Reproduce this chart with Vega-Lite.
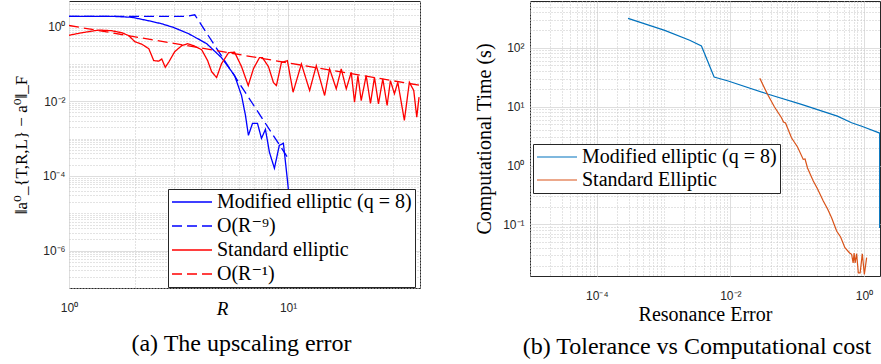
{
  "$schema": "https://vega.github.io/schema/vega-lite/v6.json",
  "background": "white",
  "padding": {"left": 11, "top": 0, "right": 0, "bottom": 0},
  "spacing": 110,
  "bounds": "flush",
  "datasets": {
    "left": [
      {"s": "Modified elliptic (q = 8)", "i": 0, "x": 1, "y": 1.87},
      {"s": "Modified elliptic (q = 8)", "i": 1, "x": 1.569, "y": 1.87},
      {"s": "Modified elliptic (q = 8)", "i": 2, "x": 1.935, "y": 1.76},
      {"s": "Modified elliptic (q = 8)", "i": 3, "x": 2.31, "y": 1.42},
      {"s": "Modified elliptic (q = 8)", "i": 4, "x": 2.65, "y": 1.18},
      {"s": "Modified elliptic (q = 8)", "i": 5, "x": 3.0, "y": 0.94},
      {"s": "Modified elliptic (q = 8)", "i": 6, "x": 3.52, "y": 0.638},
      {"s": "Modified elliptic (q = 8)", "i": 7, "x": 4.25, "y": 0.346},
      {"s": "Modified elliptic (q = 8)", "i": 8, "x": 4.97, "y": 0.146},
      {"s": "Modified elliptic (q = 8)", "i": 9, "x": 5.70, "y": 0.0485},
      {"s": "Modified elliptic (q = 8)", "i": 10, "x": 6.13, "y": 0.0142},
      {"s": "Modified elliptic (q = 8)", "i": 11, "x": 6.39, "y": 0.00416},
      {"s": "Modified elliptic (q = 8)", "i": 12, "x": 6.59, "y": 0.00122},
      {"s": "Modified elliptic (q = 8)", "i": 13, "x": 6.88, "y": 0.00254},
      {"s": "Modified elliptic (q = 8)", "i": 14, "x": 7.25, "y": 0.00254},
      {"s": "Modified elliptic (q = 8)", "i": 15, "x": 7.56, "y": 0.00101},
      {"s": "Modified elliptic (q = 8)", "i": 16, "x": 7.88, "y": 0.00176},
      {"s": "Modified elliptic (q = 8)", "i": 17, "x": 8.22, "y": 0.000429},
      {"s": "Modified elliptic (q = 8)", "i": 18, "x": 8.66, "y": 0.00016},
      {"s": "Modified elliptic (q = 8)", "i": 19, "x": 9.12, "y": 0.000659},
      {"s": "Modified elliptic (q = 8)", "i": 20, "x": 9.52, "y": 0.000745},
      {"s": "Modified elliptic (q = 8)", "i": 21, "x": 9.93, "y": 0.000077},
      {"s": "Modified elliptic (q = 8)", "i": 22, "x": 10.14, "y": 0.0000225},
      {"s": "Modified elliptic (q = 8)", "i": 23, "x": 10.24, "y": 0.00001},
      {"s": "O(R⁻⁹)", "i": 0, "x": 1, "y": 1.87},
      {"s": "O(R⁻⁹)", "i": 1, "x": 3.44, "y": 1.87},
      {"s": "O(R⁻⁹)", "i": 2, "x": 3.75, "y": 2.05},
      {"s": "O(R⁻⁹)", "i": 3, "x": 10.03, "y": 0.00029},
      {"s": "Standard elliptic", "i": 0, "x": 1.0, "y": 0.582},
      {"s": "Standard elliptic", "i": 1, "x": 1.146, "y": 0.679},
      {"s": "Standard elliptic", "i": 2, "x": 1.37, "y": 0.802},
      {"s": "Standard elliptic", "i": 3, "x": 1.569, "y": 0.768},
      {"s": "Standard elliptic", "i": 4, "x": 1.743, "y": 0.679},
      {"s": "Standard elliptic", "i": 5, "x": 1.876, "y": 0.565},
      {"s": "Standard elliptic", "i": 6, "x": 1.997, "y": 0.391},
      {"s": "Standard elliptic", "i": 7, "x": 2.149, "y": 0.335},
      {"s": "Standard elliptic", "i": 8, "x": 2.313, "y": 0.254},
      {"s": "Standard elliptic", "i": 9, "x": 2.437, "y": 0.1217},
      {"s": "Standard elliptic", "i": 10, "x": 2.569, "y": 0.118},
      {"s": "Standard elliptic", "i": 11, "x": 2.651, "y": 0.135},
      {"s": "Standard elliptic", "i": 12, "x": 2.75, "y": 0.0807},
      {"s": "Standard elliptic", "i": 13, "x": 2.852, "y": 0.111},
      {"s": "Standard elliptic", "i": 14, "x": 3.038, "y": 0.2115},
      {"s": "Standard elliptic", "i": 15, "x": 3.268, "y": 0.3057},
      {"s": "Standard elliptic", "i": 16, "x": 3.48, "y": 0.3456},
      {"s": "Standard elliptic", "i": 17, "x": 3.707, "y": 0.3057},
      {"s": "Standard elliptic", "i": 18, "x": 4.03, "y": 0.2392},
      {"s": "Standard elliptic", "i": 19, "x": 4.292, "y": 0.1217},
      {"s": "Standard elliptic", "i": 20, "x": 4.477, "y": 0.0619},
      {"s": "Standard elliptic", "i": 21, "x": 4.717, "y": 0.0429},
      {"s": "Standard elliptic", "i": 22, "x": 4.97, "y": 0.1012},
      {"s": "Standard elliptic", "i": 23, "x": 5.35, "y": 0.199},
      {"s": "Standard elliptic", "i": 24, "x": 5.697, "y": 0.205},
      {"s": "Standard elliptic", "i": 25, "x": 6.131, "y": 0.0842},
      {"s": "Standard elliptic", "i": 26, "x": 6.577, "y": 0.0262},
      {"s": "Standard elliptic", "i": 27, "x": 6.951, "y": 0.0745},
      {"s": "Standard elliptic", "i": 28, "x": 7.403, "y": 0.1463},
      {"s": "Standard elliptic", "i": 29, "x": 7.638, "y": 0.1463},
      {"s": "Standard elliptic", "i": 30, "x": 8.135, "y": 0.0842},
      {"s": "Standard elliptic", "i": 31, "x": 8.574, "y": 0.0315},
      {"s": "Standard elliptic", "i": 32, "x": 8.846, "y": 0.0262},
      {"s": "Standard elliptic", "i": 33, "x": 9.322, "y": 0.1076},
      {"s": "Standard elliptic", "i": 34, "x": 9.927, "y": 0.1217},
      {"s": "Standard elliptic", "i": 35, "x": 10.54, "y": 0.0174},
      {"s": "Standard elliptic", "i": 36, "x": 11.5, "y": 0.0994},
      {"s": "Standard elliptic", "i": 37, "x": 12.54, "y": 0.0193},
      {"s": "Standard elliptic", "i": 38, "x": 13.45, "y": 0.0895},
      {"s": "Standard elliptic", "i": 39, "x": 14.68, "y": 0.0142},
      {"s": "Standard elliptic", "i": 40, "x": 15.47, "y": 0.0731},
      {"s": "Standard elliptic", "i": 41, "x": 16.59, "y": 0.0214},
      {"s": "Standard elliptic", "i": 42, "x": 17.48, "y": 0.0731},
      {"s": "Standard elliptic", "i": 43, "x": 18.43, "y": 0.0214},
      {"s": "Standard elliptic", "i": 44, "x": 19.42, "y": 0.0593},
      {"s": "Standard elliptic", "i": 45, "x": 20.1, "y": 0.0094},
      {"s": "Standard elliptic", "i": 46, "x": 20.83, "y": 0.0484},
      {"s": "Standard elliptic", "i": 47, "x": 21.56, "y": 0.0104},
      {"s": "Standard elliptic", "i": 48, "x": 22.72, "y": 0.0484},
      {"s": "Standard elliptic", "i": 49, "x": 23.77, "y": 0.00869},
      {"s": "Standard elliptic", "i": 50, "x": 24.79, "y": 0.0437},
      {"s": "Standard elliptic", "i": 51, "x": 25.85, "y": 0.00852},
      {"s": "Standard elliptic", "i": 52, "x": 27.06, "y": 0.0396},
      {"s": "Standard elliptic", "i": 53, "x": 28.31, "y": 0.00768},
      {"s": "Standard elliptic", "i": 54, "x": 29.31, "y": 0.0356},
      {"s": "Standard elliptic", "i": 55, "x": 30.57, "y": 0.0158},
      {"s": "Standard elliptic", "i": 56, "x": 31.68, "y": 0.0321},
      {"s": "Standard elliptic", "i": 57, "x": 33.94, "y": 0.00306},
      {"s": "Standard elliptic", "i": 58, "x": 35.77, "y": 0.0321},
      {"s": "Standard elliptic", "i": 59, "x": 37.46, "y": 0.0193},
      {"s": "Standard elliptic", "i": 60, "x": 38.66, "y": 0.00374},
      {"s": "Standard elliptic", "i": 61, "x": 39.6, "y": 0.0128},
      {"s": "O(R⁻¹)", "i": 0, "x": 1, "y": 1.06},
      {"s": "O(R⁻¹)", "i": 1, "x": 40, "y": 0.0265}
    ],
    "right": [
      {"s": "Modified elliptic (q = 8)", "i": 0, "x": 0.000294, "y": 315},
      {"s": "Modified elliptic (q = 8)", "i": 1, "x": 0.00104, "y": 197},
      {"s": "Modified elliptic (q = 8)", "i": 2, "x": 0.00246, "y": 134},
      {"s": "Modified elliptic (q = 8)", "i": 3, "x": 0.00369, "y": 107},
      {"s": "Modified elliptic (q = 8)", "i": 4, "x": 0.00571, "y": 31.8},
      {"s": "Modified elliptic (q = 8)", "i": 5, "x": 0.00927, "y": 27.2},
      {"s": "Modified elliptic (q = 8)", "i": 6, "x": 0.0369, "y": 16.2},
      {"s": "Modified elliptic (q = 8)", "i": 7, "x": 0.116, "y": 10.9},
      {"s": "Modified elliptic (q = 8)", "i": 8, "x": 0.4, "y": 6.9},
      {"s": "Modified elliptic (q = 8)", "i": 9, "x": 0.654, "y": 5.33},
      {"s": "Modified elliptic (q = 8)", "i": 10, "x": 0.95, "y": 4.6},
      {"s": "Modified elliptic (q = 8)", "i": 11, "x": 1.72, "y": 3.55},
      {"s": "Modified elliptic (q = 8)", "i": 12, "x": 1.72, "y": 0.087},
      {"s": "Standard Elliptic", "i": 0, "x": 0.0276, "y": 30.2},
      {"s": "Standard Elliptic", "i": 1, "x": 0.036, "y": 16.2},
      {"s": "Standard Elliptic", "i": 2, "x": 0.0458, "y": 9.84},
      {"s": "Standard Elliptic", "i": 3, "x": 0.0583, "y": 6.47},
      {"s": "Standard Elliptic", "i": 4, "x": 0.0625, "y": 5.48},
      {"s": "Standard Elliptic", "i": 5, "x": 0.067, "y": 5.27},
      {"s": "Standard Elliptic", "i": 6, "x": 0.0822, "y": 2.96},
      {"s": "Standard Elliptic", "i": 7, "x": 0.1014, "y": 2.06},
      {"s": "Standard Elliptic", "i": 8, "x": 0.1234, "y": 1.27},
      {"s": "Standard Elliptic", "i": 9, "x": 0.1314, "y": 1.29},
      {"s": "Standard Elliptic", "i": 10, "x": 0.143, "y": 0.907},
      {"s": "Standard Elliptic", "i": 11, "x": 0.1743, "y": 0.546},
      {"s": "Standard Elliptic", "i": 12, "x": 0.2023, "y": 0.399},
      {"s": "Standard Elliptic", "i": 13, "x": 0.2461, "y": 0.2495},
      {"s": "Standard Elliptic", "i": 14, "x": 0.2856, "y": 0.1825},
      {"s": "Standard Elliptic", "i": 15, "x": 0.328, "y": 0.13},
      {"s": "Standard Elliptic", "i": 16, "x": 0.39, "y": 0.0773},
      {"s": "Standard Elliptic", "i": 17, "x": 0.4475, "y": 0.0611},
      {"s": "Standard Elliptic", "i": 18, "x": 0.519, "y": 0.0402},
      {"s": "Standard Elliptic", "i": 19, "x": 0.61, "y": 0.0327},
      {"s": "Standard Elliptic", "i": 20, "x": 0.654, "y": 0.031},
      {"s": "Standard Elliptic", "i": 21, "x": 0.689, "y": 0.0221},
      {"s": "Standard Elliptic", "i": 22, "x": 0.713, "y": 0.0327},
      {"s": "Standard Elliptic", "i": 23, "x": 0.738, "y": 0.0221},
      {"s": "Standard Elliptic", "i": 24, "x": 0.777, "y": 0.0318},
      {"s": "Standard Elliptic", "i": 25, "x": 0.824, "y": 0.015},
      {"s": "Standard Elliptic", "i": 26, "x": 0.877, "y": 0.015},
      {"s": "Standard Elliptic", "i": 27, "x": 0.946, "y": 0.0318},
      {"s": "Standard Elliptic", "i": 28, "x": 1.014, "y": 0.0142},
      {"s": "Standard Elliptic", "i": 29, "x": 1.098, "y": 0.0272}
    ]
  },
  "hconcat": [
    {
      "width": 351,
      "height": 287,
      "title": {"text": "(a) The upscaling error", "dx": -3, "offset": 14},
      "data": {"name": "left"},
      "mark": {"type": "line", "strokeWidth": 1.3, "clip": true},
      "encoding": {
        "x": {
          "field": "x", "type": "quantitative",
          "scale": {"type": "log", "domain": [1, 40], "nice": false},
          "axis": {
            "values": [1, 2, 3, 4, 5, 6, 7, 8, 9, 10, 20, 30, 40],
            "labelExpr": "abs(log(datum.value)/LN10 - round(log(datum.value)/LN10)) < 0.001 ? '10' + replace(replace(replace(replace(replace(replace(replace(replace(replace(replace(replace('' + round(log(datum.value)/LN10),'-','⁻'),'0','⁰'),'1','¹'),'2','²'),'3','³'),'4','⁴'),'5','⁵'),'6','⁶'),'7','⁷'),'8','⁸'),'9','⁹') : ''",
            "labelFontSize": {"condition": {"test": "abs(log(datum.value)/LN10 - round(log(datum.value)/LN10)) < 0.001", "value": 12}, "value": 1},
            "gridColor": {"condition": {"test": "abs(log(datum.value)/LN10 - round(log(datum.value)/LN10)) < 0.001", "value": "#dedede"}, "value": "#c6c6c6"},
            "gridDash": {"condition": {"test": "abs(log(datum.value)/LN10 - round(log(datum.value)/LN10)) < 0.001", "value": []}, "value": [1, 2]},
            "labelPadding": 14,
            "title": "R",
            "titleFontStyle": "italic",
            "titleFontSize": 19,
            "titleX": 153,
            "titleY": 26,
            "titleBaseline": "alphabetic"
          }
        },
        "y": {
          "field": "y", "type": "quantitative",
          "scale": {"type": "log", "domain": [1e-7, 4.8], "nice": false},
          "axis": {
            "values": [1e-7, 2e-7, 3e-7, 4e-7, 5e-7, 6e-7, 7e-7, 8e-7, 9e-7, 1e-6, 2e-6, 3e-6, 4e-6, 5e-6, 6e-6, 7e-6, 8e-6, 9e-6, 1e-5, 2e-5, 3e-5, 4e-5, 5e-5, 6e-5, 7e-5, 8e-5, 9e-5, 1e-4, 2e-4, 3e-4, 4e-4, 5e-4, 6e-4, 7e-4, 8e-4, 9e-4, 0.001, 0.002, 0.003, 0.004, 0.005, 0.006, 0.007, 0.008, 0.009, 0.01, 0.02, 0.03, 0.04, 0.05, 0.06, 0.07, 0.08, 0.09, 0.1, 0.2, 0.3, 0.4, 0.5, 0.6, 0.7, 0.8, 0.9, 1, 2, 3, 4],
            "labelExpr": "abs(log(datum.value)/LN10/2 - round(log(datum.value)/LN10/2)) < 0.001 ? '10' + replace(replace(replace(replace(replace(replace(replace(replace(replace(replace(replace('' + round(log(datum.value)/LN10),'-','⁻'),'0','⁰'),'1','¹'),'2','²'),'3','³'),'4','⁴'),'5','⁵'),'6','⁶'),'7','⁷'),'8','⁸'),'9','⁹') : ''",
            "labelFontSize": {"condition": {"test": "abs(log(datum.value)/LN10/2 - round(log(datum.value)/LN10/2)) < 0.001", "value": 12}, "value": 1},
            "gridColor": {"condition": {"test": "abs(log(datum.value)/LN10/2 - round(log(datum.value)/LN10/2)) < 0.001", "value": "#dedede"}, "value": "#c6c6c6"},
            "gridDash": {"condition": {"test": "abs(log(datum.value)/LN10/2 - round(log(datum.value)/LN10/2)) < 0.001", "value": []}, "value": [1, 2]},
            "labelPadding": 4,
            "title": "‖a⁰_{T,R,L} − a⁰‖_F",
            "titleFontSize": 17,
            "titleX": -48,
            "titleBaseline": "middle"
          }
        },
        "color": {
          "field": "s", "type": "nominal",
          "scale": {"domain": ["Modified elliptic (q = 8)", "O(R⁻⁹)", "Standard elliptic", "O(R⁻¹)"], "range": ["#0000ff", "#0000ff", "#ff0000", "#ff0000"]},
          "legend": {"orient": "none", "legendX": 99, "legendY": 188, "title": null, "symbolType": "stroke", "symbolSize": 1600, "clipHeight": 20, "symbolStrokeWidth": 1.3, "labelFontSize": 20, "labelLimit": 400, "labelOffset": 4, "fillColor": "white", "strokeColor": "#262626", "padding": 3, "rowPadding": 4, "cornerRadius": 0}
        },
        "strokeDash": {
          "field": "s", "type": "nominal",
          "scale": {"domain": ["Modified elliptic (q = 8)", "O(R⁻⁹)", "Standard elliptic", "O(R⁻¹)"], "range": [[1, 0], [10, 5], [1, 0], [10, 5]]},
          "legend": {"orient": "none", "legendX": 99, "legendY": 188, "title": null, "symbolType": "stroke", "symbolSize": 1600, "clipHeight": 20, "symbolStrokeWidth": 1.3, "labelFontSize": 20, "labelLimit": 400, "labelOffset": 4, "fillColor": "white", "strokeColor": "#262626", "padding": 3, "rowPadding": 4, "cornerRadius": 0}
        },
        "order": {"field": "i", "type": "quantitative"}
      }
    },
    {
      "width": 350,
      "height": 275,
      "title": {"text": "(b) Tolerance vs Computational cost", "dx": -8, "offset": 11},
      "data": {"name": "right"},
      "mark": {"type": "line", "strokeWidth": 1.2, "clip": true},
      "encoding": {
        "x": {
          "field": "x", "type": "quantitative",
          "scale": {"type": "log", "domain": [1e-5, 1.74], "nice": false},
          "axis": {
            "values": [1e-5, 2e-5, 3e-5, 4e-5, 5e-5, 6e-5, 7e-5, 8e-5, 9e-5, 1e-4, 2e-4, 3e-4, 4e-4, 5e-4, 6e-4, 7e-4, 8e-4, 9e-4, 0.001, 0.002, 0.003, 0.004, 0.005, 0.006, 0.007, 0.008, 0.009, 0.01, 0.02, 0.03, 0.04, 0.05, 0.06, 0.07, 0.08, 0.09, 0.1, 0.2, 0.3, 0.4, 0.5, 0.6, 0.7, 0.8, 0.9, 1],
            "labelExpr": "abs(log(datum.value)/LN10/2 - round(log(datum.value)/LN10/2)) < 0.001 ? '10' + replace(replace(replace(replace(replace(replace(replace(replace(replace(replace(replace('' + round(log(datum.value)/LN10),'-','⁻'),'0','⁰'),'1','¹'),'2','²'),'3','³'),'4','⁴'),'5','⁵'),'6','⁶'),'7','⁷'),'8','⁸'),'9','⁹') : ''",
            "labelFontSize": {"condition": {"test": "abs(log(datum.value)/LN10/2 - round(log(datum.value)/LN10/2)) < 0.001", "value": 12}, "value": 1},
            "gridColor": {"condition": {"test": "abs(log(datum.value)/LN10/2 - round(log(datum.value)/LN10/2)) < 0.001", "value": "#dedede"}, "value": "#c6c6c6"},
            "gridDash": {"condition": {"test": "abs(log(datum.value)/LN10/2 - round(log(datum.value)/LN10/2)) < 0.001", "value": []}, "value": [1, 2]},
            "labelPadding": 14,
            "title": "Resonance Error",
            "titleFontSize": 20,
            "titleY": 44,
            "titleBaseline": "alphabetic"
          }
        },
        "y": {
          "field": "y", "type": "quantitative",
          "scale": {"type": "log", "domain": [0.0133, 621], "nice": false},
          "axis": {
            "values": [0.02, 0.03, 0.04, 0.05, 0.06, 0.07, 0.08, 0.09, 0.1, 0.2, 0.3, 0.4, 0.5, 0.6, 0.7, 0.8, 0.9, 1, 2, 3, 4, 5, 6, 7, 8, 9, 10, 20, 30, 40, 50, 60, 70, 80, 90, 100, 200, 300, 400, 500, 600],
            "labelExpr": "abs(log(datum.value)/LN10 - round(log(datum.value)/LN10)) < 0.001 ? '10' + replace(replace(replace(replace(replace(replace(replace(replace(replace(replace(replace('' + round(log(datum.value)/LN10),'-','⁻'),'0','⁰'),'1','¹'),'2','²'),'3','³'),'4','⁴'),'5','⁵'),'6','⁶'),'7','⁷'),'8','⁸'),'9','⁹') : ''",
            "labelFontSize": {"condition": {"test": "abs(log(datum.value)/LN10 - round(log(datum.value)/LN10)) < 0.001", "value": 12}, "value": 1},
            "gridColor": {"condition": {"test": "abs(log(datum.value)/LN10 - round(log(datum.value)/LN10)) < 0.001", "value": "#dedede"}, "value": "#c6c6c6"},
            "gridDash": {"condition": {"test": "abs(log(datum.value)/LN10 - round(log(datum.value)/LN10)) < 0.001", "value": []}, "value": [1, 2]},
            "labelPadding": 6,
            "title": "Computational Time (s)",
            "titleFontSize": 20,
            "titleX": -40,
            "titleBaseline": "alphabetic"
          }
        },
        "color": {
          "field": "s", "type": "nominal",
          "scale": {"domain": ["Modified elliptic (q = 8)", "Standard Elliptic"], "range": ["#0072bd", "#d95319"]},
          "legend": {"orient": "none", "legendX": 3, "legendY": 143, "title": null, "symbolType": "stroke", "symbolSize": 1600, "clipHeight": 20, "symbolStrokeWidth": 1.2, "labelFontSize": 20, "labelLimit": 400, "labelOffset": 4, "fillColor": "white", "strokeColor": "#262626", "padding": 3, "rowPadding": 3, "cornerRadius": 0}
        },
        "order": {"field": "i", "type": "quantitative"}
      }
    }
  ],
  "resolve": {
    "scale": {"x": "independent", "y": "independent", "color": "independent", "strokeDash": "independent"},
    "legend": {"color": "independent", "strokeDash": "independent"}
  },
  "config": {
    "view": {"stroke": "#262626", "strokeWidth": 1},
    "axis": {
      "domain": false,
      "ticks": false,
      "labelFont": "'Liberation Sans', Arial, sans-serif",
      "labelColor": "#262626",
      "labelOverlap": false,
      "labelFlush": false,
      "titleFont": "'Liberation Serif', 'DejaVu Serif', serif",
      "titleFontWeight": "normal",
      "titleColor": "#000000",
      "gridOpacity": 1,
      "gridWidth": 1
    },
    "legend": {
      "labelFont": "'Liberation Serif', 'DejaVu Serif', serif",
      "labelColor": "#000000"
    },
    "title": {
      "orient": "bottom",
      "anchor": "middle",
      "frame": "group",
      "font": "'Liberation Serif', 'DejaVu Serif', serif",
      "fontSize": 24,
      "fontWeight": "normal",
      "color": "#000000"
    }
  }
}
